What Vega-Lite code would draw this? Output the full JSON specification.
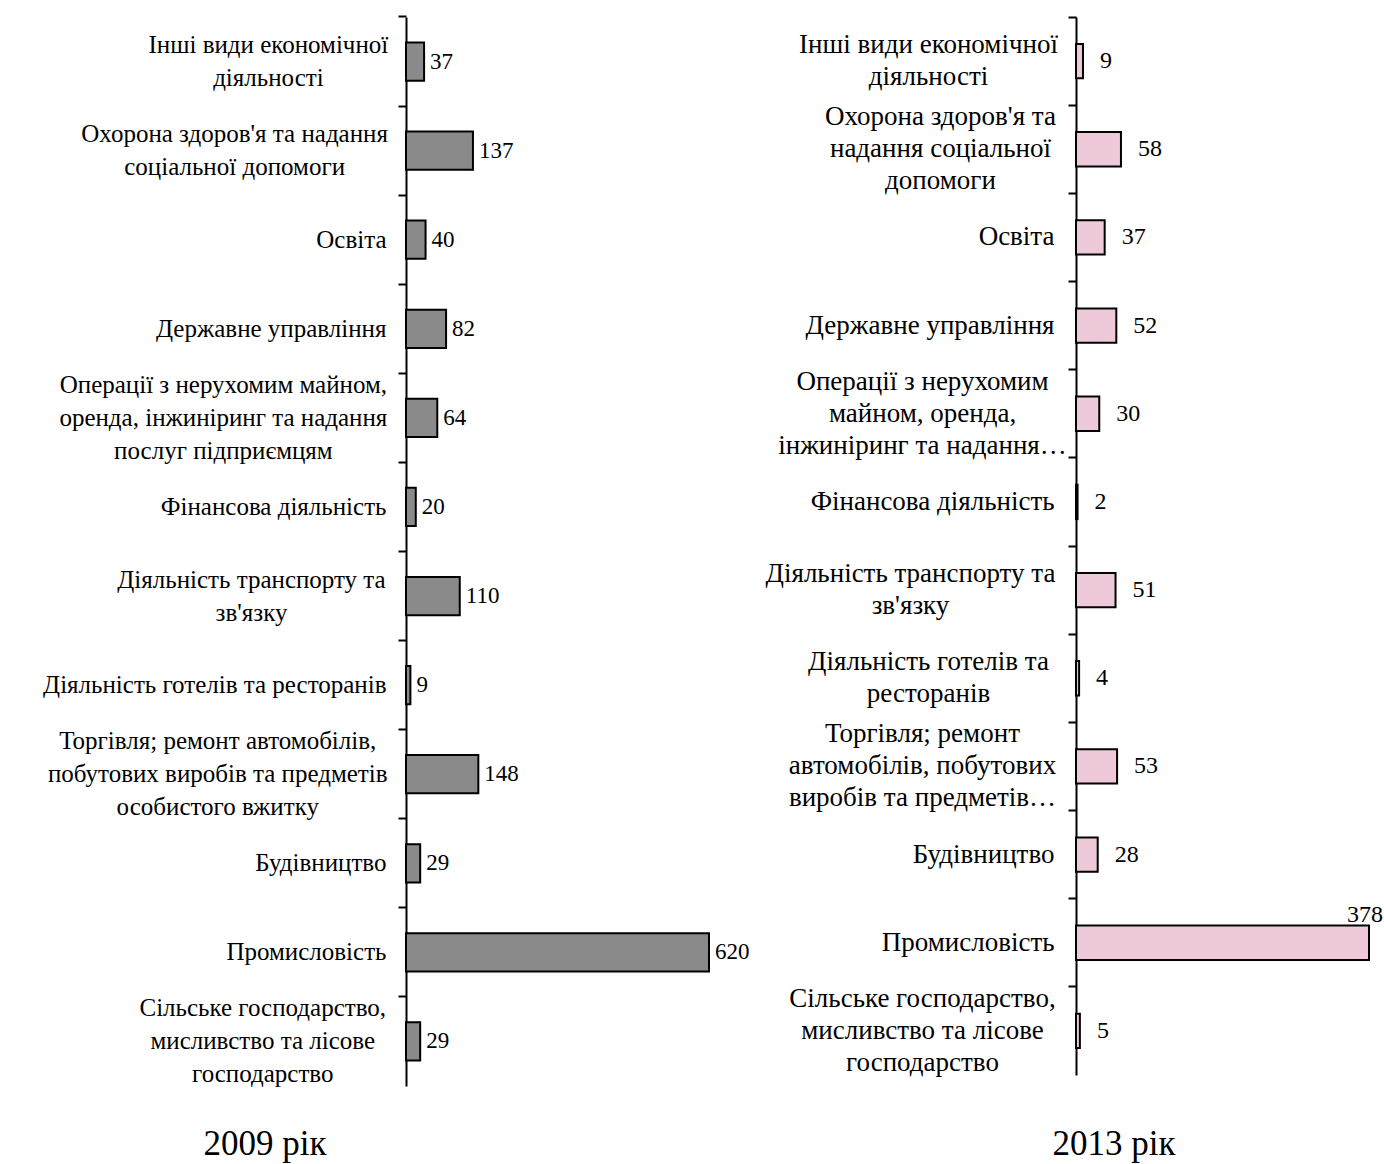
{
  "$schema": "https://vega.github.io/schema/vega-lite/v6.json",
  "background": "white",
  "padding": {"left": 42, "top": 15, "right": 0, "bottom": 0},
  "spacing": 15,
  "config": {
    "view": {"stroke": null},
    "font": "Liberation Serif",
    "axis": {"domainColor": "black", "domainWidth": 2, "tickColor": "black", "tickWidth": 2, "tickSize": 8, "labelColor": "black", "labelFont": "Liberation Serif", "labelFontSize": 25, "labelLineHeight": 33, "labelLimit": 400, "title": null, "grid": false},
    "title": {"font": "Liberation Serif", "fontSize": 35, "fontWeight": "normal", "color": "black"}
  },
  "datasets": {
    "y2009": [
      {"label": "Інші види економічної|діяльності", "value": 37},
      {"label": "Охорона здоров'я та надання|соціальної допомоги", "value": 137},
      {"label": "Освіта", "value": 40},
      {"label": "Державне управління", "value": 82},
      {"label": "Операції з нерухомим майном,|оренда, інжиніринг та надання|послуг підприємцям", "value": 64},
      {"label": "Фінансова діяльність", "value": 20},
      {"label": "Діяльність транспорту та|зв'язку", "value": 110},
      {"label": "Діяльність готелів та ресторанів", "value": 9},
      {"label": "Торгівля; ремонт автомобілів,|побутових виробів та предметів|особистого вжитку", "value": 148},
      {"label": "Будівництво", "value": 29},
      {"label": "Промисловість", "value": 620},
      {"label": "Сільське господарство,|мисливство та лісове|господарство", "value": 29}
    ],
    "y2013": [
      {"label": "Інші види економічної|діяльності", "value": 9},
      {"label": "Охорона здоров'я та|надання соціальної|допомоги", "value": 58},
      {"label": "Освіта", "value": 37},
      {"label": "Державне управління", "value": 52},
      {"label": "Операції з нерухомим|майном, оренда,|інжиніринг та надання…", "value": 30},
      {"label": "Фінансова діяльність", "value": 2},
      {"label": "Діяльність транспорту та|зв'язку", "value": 51},
      {"label": "Діяльність готелів та|ресторанів", "value": 4},
      {"label": "Торгівля; ремонт|автомобілів, побутових|виробів та предметів…", "value": 53},
      {"label": "Будівництво", "value": 28},
      {"label": "Промисловість", "value": 378},
      {"label": "Сільське господарство,|мисливство та лісове|господарство", "value": 5}
    ]
  },
  "hconcat": [
    {
      "data": {"name": "y2009"},
      "width": 340,
      "height": 1069,
      "title": {"text": "2009 рік", "orient": "bottom", "anchor": "middle", "frame": "bounds", "offset": 40, "dx": -131},
      "encoding": {
        "y": {"field": "label", "type": "nominal", "sort": null, "scale": {"paddingInner": 0.57, "paddingOuter": 0.285},
              "axis": {"labelExpr": "split(datum.label, '|')", "labelBaseline": "middle", "bandPosition": -0.6628,
                       "labelAlign": {"expr": "indexof(datum.value, '|') >= 0 ? 'center' : 'right'"},
                       "labelOffset": {"expr": "-(length(split(datum.value, '|')) - 1) * 16.5"},
                       "labelPadding": {"expr": "indexof(datum.value, '|') >= 0 ? 12 + 0.5 * 11.25 * max(length(split(datum.value, '|')[0]), length(split(datum.value, '|')[1] || ''), length(split(datum.value, '|')[2] || '')) : 12"}}},
        "x": {"field": "value", "type": "quantitative", "scale": {"domain": [0, 695.7], "nice": false}, "axis": null}
      },
      "layer": [
        {"mark": {"type": "bar", "fill": "#8a8a8a", "stroke": "black", "strokeWidth": 2}},
        {"mark": {"type": "text", "align": "left", "baseline": "middle", "dx": 6, "fontSize": 23, "font": "Liberation Serif", "color": "black"},
         "encoding": {"text": {"field": "value", "type": "quantitative"}}}
      ]
    },
    {
      "data": {"name": "y2013"},
      "width": 300,
      "height": 1058,
      "title": {"text": "2013 рік", "orient": "bottom", "anchor": "middle", "frame": "bounds", "offset": 52, "dx": 40},
      "encoding": {
        "y": {"field": "label", "type": "nominal", "sort": null, "scale": {"paddingInner": 0.61, "paddingOuter": 0.305},
              "axis": {"labelExpr": "split(datum.label, '|')", "labelBaseline": "middle", "labelFontSize": 27, "labelLineHeight": 32, "bandPosition": -0.782,
                       "labelAlign": {"expr": "indexof(datum.value, '|') >= 0 ? 'center' : 'right'"},
                       "labelOffset": {"expr": "-(length(split(datum.value, '|')) - 1) * 16"},
                       "labelPadding": {"expr": "indexof(datum.value, '|') >= 0 ? 14 + 0.5 * 12.0 * max(length(split(datum.value, '|')[0]), length(split(datum.value, '|')[1] || ''), length(split(datum.value, '|')[2] || '')) : 14"}}},
        "x": {"field": "value", "type": "quantitative", "scale": {"domain": [0, 387], "nice": false}, "axis": null}
      },
      "layer": [
        {"mark": {"type": "bar", "fill": "#eec9da", "stroke": "black", "strokeWidth": 2}},
        {"transform": [{"filter": "datum.value < 300"}],
         "mark": {"type": "text", "align": "left", "baseline": "middle", "dx": 17, "fontSize": 24, "font": "Liberation Serif", "color": "black"},
         "encoding": {"text": {"field": "value", "type": "quantitative"}}},
        {"transform": [{"filter": "datum.value >= 300"}],
         "mark": {"type": "text", "align": "right", "baseline": "middle", "dx": 14, "dy": -28, "fontSize": 24, "font": "Liberation Serif", "color": "black"},
         "encoding": {"text": {"field": "value", "type": "quantitative"}}}
      ]
    }
  ]
}
